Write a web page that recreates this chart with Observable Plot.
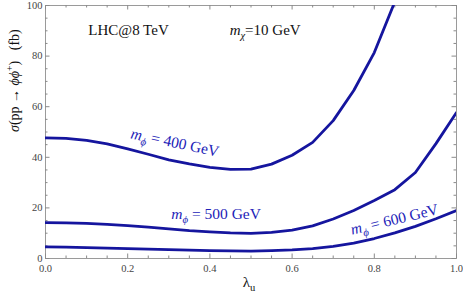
<!DOCTYPE html>
<html><head><meta charset="utf-8">
<script src="https://cdn.jsdelivr.net/npm/d3@7"></script>
<script src="https://cdn.jsdelivr.net/npm/@observablehq/plot@0.6"></script>
<style>
body{margin:0;background:#fff}
#chart svg, #chart svg text, #chart svg tspan { font-family: "Liberation Serif", "Times New Roman", serif !important; }
</style>
</head><body><div id="chart"></div>
<script>
// ---- data ----
const lambdaU = [0,0.05,0.1,0.15,0.2,0.25,0.3,0.35,0.4,0.45,0.5,0.55,0.6,0.65,0.7,0.75,0.8,0.85,0.9,0.95,1.0];
const sigma400 = [47.7,47.5,46.7,45.3,43.3,41.2,39.0,37.4,36.0,35.2,35.3,37.3,40.8,45.9,54.5,66.4,81.4,101.5];
const sigma500 = [14.2,14.1,13.9,13.5,13.0,12.4,11.7,11.0,10.5,10.1,9.9,10.3,11.2,12.9,15.6,19.0,22.9,27.2,34.0,45.4,57.7];
const sigma600 = [4.6,4.5,4.3,4.1,3.9,3.7,3.5,3.3,3.1,3.0,2.9,3.1,3.4,3.9,4.8,6.1,7.9,10.1,12.7,15.7,19.0];
const seriesNames = ["400","500","600"];
const xTicks = [0,0.2,0.4,0.6,0.8,1.0];
const yTicks = [0,20,40,60,80,100];
const xMinor = [0.05,0.1,0.15,0.25,0.3,0.35,0.45,0.5,0.55,0.65,0.7,0.75,0.85,0.9,0.95];
const yMinor = [5,10,15,25,30,35,45,50,55,65,70,75,85,90,95];
const curveLabels = ["m_ϕ = 400 GeV","m_ϕ = 500 GeV","m_ϕ = 600 GeV"];
const infoLabels = ["LHC@8 TeV","m_χ=10 GeV"];
const xLabel = "λ_u";
const yLabel = "σ(pp → ϕϕ+)  (fb)";

// ---- layout / style ----
const W = 463, H = 299, mL = 45, mR = 7, mT = 5, mB = 41;
const FONT = "'Liberation Serif','Times New Roman',serif";
const lineColor = "#15159e", labelColor = "#2323b8", tickColor = "#8a8a8a";
const xPerPx = 1 / (W - mL - mR), yPerPx = 100 / (H - mT - mB);
const majLen = 4.5, minLen = 2.5;

const rows = [];
[sigma400, sigma500, sigma600].forEach((arr, k) =>
  arr.forEach((v, i) => rows.push({lambda: lambdaU[i], sigma: v, series: seriesNames[k]})));

const curveLabelPos = [
  {x: 0.315, y: 45.8, rotate: 12},
  {x: 0.415, y: 17.7, rotate: 0},
  {x: 0.849, y: 15.4, rotate: -13.5}
];
const labelRows = curveLabels.map((t, i) => ({t, ...curveLabelPos[i]}));

function ruleTicksX(ticks, len, side) {
  const d = len * yPerPx;
  return Plot.ruleX(ticks, {x: v => v,
    y1: side === "bottom" ? 0 : 100 - d, y2: side === "bottom" ? d : 100,
    stroke: tickColor, strokeWidth: 1});
}
function ruleTicksY(ticks, len, side) {
  const d = len * xPerPx;
  return Plot.ruleY(ticks, {y: v => v,
    x1: side === "left" ? 0 : 1 - d, x2: side === "left" ? d : 1,
    stroke: tickColor, strokeWidth: 1});
}

const svg = Plot.plot({
  width: W, height: H,
  marginLeft: mL, marginRight: mR, marginTop: mT, marginBottom: mB,
  style: {fontFamily: FONT, fontSize: "10px", color: "#444", background: "#fff"},
  x: {domain: [0, 1]},
  y: {domain: [0, 100]},
  marks: [
    Plot.frame({stroke: "#9a9a9a"}),
    ...["bottom","top"].flatMap(s => [ruleTicksX(xTicks, majLen, s), ruleTicksX(xMinor, minLen, s)]),
    ...["left","right"].flatMap(s => [ruleTicksY(yTicks, majLen, s), ruleTicksY(yMinor, minLen, s)]),
    Plot.axisX(xTicks, {tickSize: 0, tickPadding: 6, tickFormat: d3.format(".1f"), label: null, fontSize: 10.5, fontFamily: FONT}),
    Plot.axisY(yTicks, {tickSize: 0, tickPadding: 3, label: null, fontSize: 10.5, fontFamily: FONT}),
    Plot.line(rows, {x: "lambda", y: "sigma", z: "series", stroke: lineColor, strokeWidth: 2.8, strokeLinejoin: "round", clip: true}),
    Plot.text(labelRows, {x: "x", y: "y", text: "t", rotate: "rotate", fill: labelColor, fontSize: 15.5, fontFamily: FONT}),
    Plot.text([infoLabels[0]], {x: 0.202, y: 90.4, text: d => d, fill: "#111", fontSize: 15, fontFamily: FONT}),
    Plot.text([infoLabels[1]], {x: 0.448, y: 90.4, text: d => d, fill: "#111", fontSize: 15, textAnchor: "start", fontFamily: FONT}),
    Plot.text([xLabel], {frameAnchor: "bottom", dy: 28, dx: -2, text: d => d, fill: "#111", fontSize: 15, fontFamily: FONT}),
    Plot.text([yLabel], {frameAnchor: "left", dx: -31, rotate: -90, text: d => d, fill: "#111", fontSize: 14, fontFamily: FONT})
  ]
});

// ---- rich text (italic / sub / superscript) ----
const NS = "http://www.w3.org/2000/svg";
function rich(el, segs, fs) {
  el.textContent = "";
  let shift = 0;
  for (const [t, s = ""] of segs) {
    const ts = document.createElementNS(NS, "tspan");
    ts.textContent = t;
    if (s.includes("i")) ts.setAttribute("font-style", "italic");
    const target = s.includes("sub") ? 0.28 * fs : s.includes("sup") ? -0.42 * fs : 0;
    if (target !== shift) { ts.setAttribute("dy", (target - shift) + "px"); shift = target; }
    if (target !== 0) ts.setAttribute("font-size", (0.7 * fs) + "px");
    el.appendChild(ts);
  }
}
const richMap = {
  "m_ϕ = 400 GeV": [[["m","i"],["ϕ","isub"],[" = 400 GeV"]], 15.5],
  "m_ϕ = 500 GeV": [[["m","i"],["ϕ","isub"],[" = 500 GeV"]], 15.5],
  "m_ϕ = 600 GeV": [[["m","i"],["ϕ","isub"],[" = 600 GeV"]], 15.5],
  "m_χ=10 GeV": [[["m","i"],["χ","isub"],["=10 GeV"]], 15],
  "λ_u": [[["λ"],["u","sub"]], 15],
  "σ(pp → ϕϕ+)  (fb)": [[["σ","i"],["(pp → "],["ϕϕ","i"],["+","sup"],[")\u00a0\u00a0\u00a0(fb)"]], 14]
};
svg.querySelectorAll("text").forEach(el => {
  const r = richMap[el.textContent];
  if (r) rich(el, r[0], r[1]);
});
document.getElementById("chart").appendChild(svg);
</script>
</body></html>
